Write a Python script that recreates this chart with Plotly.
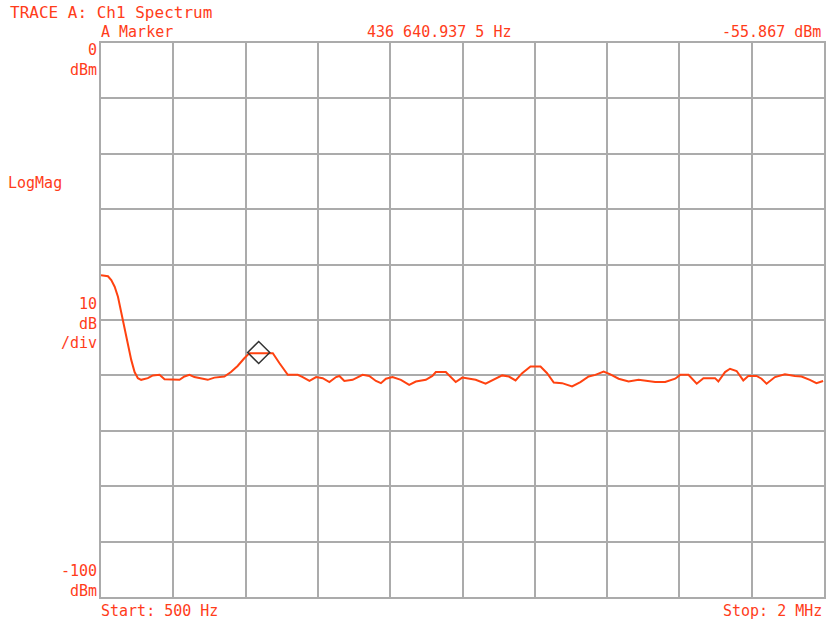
import plotly.graph_objects as go

# ---- data ----
freq_khz = [0.5, 19.8, 28.9, 38.3, 47.4, 56.5, 65.9, 75.0, 84.1, 93.4, 102.5, 111.6, 130.1, 143.9,
            162.4, 176.2, 203.8, 217.6, 231.3, 245.1, 258.9, 286.5, 295.6, 314.1, 341.7, 359.9,
            378.3, 396.8, 410.6, 433.5, 456.4, 475.7, 494.2, 517.1, 544.7, 558.4, 577.0, 595.4,
            613.6, 632.1, 650.6, 659.7, 673.5, 696.4, 724.0, 742.4, 760.9, 774.7, 788.5, 806.7,
            829.9, 852.8, 871.2, 898.8, 917.0, 926.4, 954.0, 967.7, 981.5, 999.7, 1036.7, 1064.2,
            1082.4, 1110.0, 1128.5, 1147.0, 1165.2, 1188.4, 1216.0, 1234.2, 1252.7, 1275.6, 1303.2,
            1326.3, 1349.2, 1367.7, 1390.6, 1409.1, 1432.0, 1459.6, 1487.2, 1533.2, 1560.8, 1588.4,
            1602.2, 1625.1, 1648.0, 1666.5, 1698.7, 1707.8, 1726.3, 1740.1, 1758.3, 1776.8, 1790.6,
            1813.5, 1827.3, 1841.1, 1864.3, 1891.9, 1919.5, 1937.7, 1960.9, 1979.1, 1997.6]
level_dbm = [-41.9, -42.1, -42.8, -44.0, -45.8, -48.7, -51.4, -54.5, -57.2, -59.4, -60.5, -60.8, -60.5,
             -60.0, -59.9, -60.7, -60.8, -60.8, -60.2, -59.9, -60.3, -60.6, -60.8, -60.4, -60.2,
             -59.4, -58.3, -56.9, -56.0, -56.0, -56.0, -56.0, -57.8, -59.9, -59.9, -60.3, -61.0,
             -60.3, -60.5, -61.2, -60.3, -60.1, -61.0, -60.8, -59.9, -60.1, -61.0, -61.4, -60.6,
             -60.3, -60.8, -61.7, -61.1, -60.8, -60.1, -59.4, -59.4, -60.3, -61.2, -60.4, -60.8,
             -61.5, -60.9, -60.0, -60.2, -60.9, -59.6, -58.4, -58.4, -59.6, -61.3, -61.4, -62.0,
             -61.2, -60.2, -59.9, -59.3, -59.8, -60.6, -61.1, -60.8, -61.2, -61.2, -60.6, -59.9,
             -59.9, -61.5, -60.5, -60.5, -61.1, -59.4, -58.8, -59.2, -60.9, -60.1, -60.1, -60.6,
             -61.5, -60.3, -59.8, -60.1, -60.2, -60.8, -61.4, -61.0]

start_khz = 0.5
stop_khz = 2000.0
ref_level = 0
bottom_level = -100
db_per_div = 10
marker_freq_hz = 436640.9375
marker_level = -55.867

title_text = "TRACE A: Ch1 Spectrum"
marker_label = "A Marker"
marker_freq_text = "436 640.937 5 Hz"
marker_level_text = "-55.867 dBm"
start_text = "Start: 500 Hz"
stop_text = "Stop: 2 MHz"

# ---- style ----
RED = "#ff3c1a"
TRACE = "#ff4210"
GRID = "#ababab"
FONT = "DejaVu Sans Mono"
FS = 15
W, H = 827, 625
L, R, T, B = 101, 1, 43, 28
PW, PH = W - L - R, H - T - B

def px(x):
    return (x - L) / PW

def py(y):
    return (H - B - y) / PH

fig = go.Figure()
fig.add_trace(go.Scatter(x=freq_khz, y=level_dbm, mode="lines",
                         line=dict(color=TRACE, width=2), hoverinfo="skip"))
fig.add_trace(go.Scatter(x=[marker_freq_hz / 1000.0], y=[marker_level], mode="markers",
                         marker=dict(symbol="diamond-open", size=17,
                                     line=dict(color="#333333", width=1.5), color="#333333"),
                         hoverinfo="skip"))

ann = []
def add(text, x, y, xanchor, size=FS, align="left"):
    ann.append(dict(text=text, xref="paper", yref="paper", x=px(x), y=py(y),
                    xanchor=xanchor, yanchor="middle", showarrow=False, borderpad=0,
                    align=align, font=dict(family=FONT, size=size, color=RED)))

add(title_text, 9, 13, "left", size=16)
add(marker_label, 100, 32, "left")
add(marker_freq_text, 367, 32, "left")
add(marker_level_text, 824, 32, "right")
add(f"{ref_level}<br>dBm", 98, 60, "right", align="right")
add("LogMag", 7, 183, "left")
add(f"{db_per_div}<br>dB<br>/div", 98, 323, "right", align="right")
add(f"{bottom_level}<br>dBm", 98, 581, "right", align="right")
add(start_text, 100, 611, "left")
add(stop_text, 825, 611, "right")

fig.update_layout(
    width=W, height=H,
    margin=dict(l=L, r=R, t=T, b=B, pad=0),
    paper_bgcolor="white", plot_bgcolor="white",
    showlegend=False,
    annotations=ann,
    xaxis=dict(range=[start_khz, stop_khz], tick0=start_khz, dtick=(stop_khz - start_khz) / 10,
               showgrid=True, gridcolor=GRID, gridwidth=2, zeroline=False,
               showticklabels=False, ticks="", showline=True, mirror=True,
               linecolor=GRID, linewidth=2, fixedrange=True),
    yaxis=dict(range=[bottom_level, ref_level], tick0=bottom_level, dtick=db_per_div,
               showgrid=True, gridcolor=GRID, gridwidth=2, zeroline=False,
               showticklabels=False, ticks="", showline=True, mirror=True,
               linecolor=GRID, linewidth=2, fixedrange=True),
)

fig.write_html("out.html")
